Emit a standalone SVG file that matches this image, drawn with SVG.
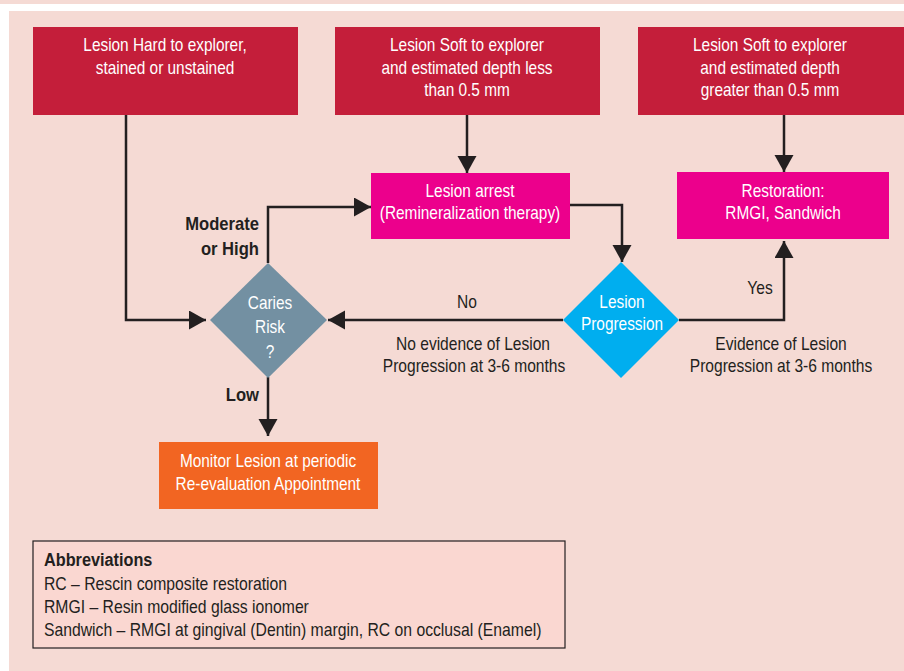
<svg xmlns="http://www.w3.org/2000/svg" width="904" height="671" viewBox="0 0 904 671">
<style>
.t{font-family:"Liberation Sans",Arial,sans-serif;font-size:17.5px;text-anchor:middle}
.w{fill:#ffffff}
.d{fill:#231f20}
.b{font-weight:bold}
.l{text-anchor:start}
.r{text-anchor:end}
.c{fill:none;stroke:#231f20;stroke-width:2.5}
</style>
<defs>
<marker id="ah" markerUnits="userSpaceOnUse" markerWidth="18" markerHeight="20" refX="17" refY="9.5" orient="auto">
<path d="M0,0 L17,9.5 L0,19 Z" fill="#231f20"/>
</marker>
</defs>
<rect x="0" y="0" width="904" height="4" fill="#f5dad4"/>
<rect x="0" y="4" width="904" height="7" fill="#ffffff"/>
<rect x="0" y="11" width="9" height="660" fill="#ffffff"/>
<rect x="9" y="11" width="895" height="660" fill="#f5dad4"/>

<g id="connectors">
<path class="c" d="M126,115 V320 H206" marker-end="url(#ah)"/>
<path class="c" d="M467,115 V173" marker-end="url(#ah)"/>
<path class="c" d="M784,115 V172" marker-end="url(#ah)"/>
<path class="c" d="M268,263 V207 H371" marker-end="url(#ah)"/>
<path class="c" d="M570,205 H622 V262" marker-end="url(#ah)"/>
<path class="c" d="M563,320 H328" marker-end="url(#ah)"/>
<path class="c" d="M679,320 H784 V241" marker-end="url(#ah)"/>
<path class="c" d="M268,377 V436" marker-end="url(#ah)"/>
<text class="t d b r" transform="matrix(0.95 0 0 1 259 230)">Moderate</text>
<text class="t d b r" transform="matrix(0.95 0 0 1 259 255)">or High</text>
<text class="t d b r" transform="matrix(0.95 0 0 1 259 401)">Low</text>
<text class="t d" transform="matrix(0.89 0 0 1 467 308)">No</text>
<text class="t d" transform="matrix(0.89 0 0 1 473 350)">No evidence of Lesion</text>
<text class="t d" transform="matrix(0.89 0 0 1 474 372)">Progression at 3-6 months</text>
<text class="t d" transform="matrix(0.89 0 0 1 760 294)">Yes</text>
<text class="t d" transform="matrix(0.89 0 0 1 781 350)">Evidence of Lesion</text>
<text class="t d" transform="matrix(0.89 0 0 1 781 372)">Progression at 3-6 months</text>
</g>

<g id="hard">
<rect x="33" y="27" width="265" height="88" fill="#c41e3a"/>
<text class="t w" transform="matrix(0.88 0 0 1 165 51)">Lesion Hard to explorer,</text>
<text class="t w" transform="matrix(0.88 0 0 1 165 74)">stained or unstained</text>
</g>
<g id="soft-less">
<rect x="335" y="27" width="265" height="88" fill="#c41e3a"/>
<text class="t w" transform="matrix(0.88 0 0 1 467 51)">Lesion Soft to explorer</text>
<text class="t w" transform="matrix(0.88 0 0 1 467 74)">and estimated depth less</text>
<text class="t w" transform="matrix(0.88 0 0 1 467 96)">than 0.5 mm</text>
</g>
<g id="soft-greater">
<rect x="638" y="27" width="266" height="88" fill="#c41e3a"/>
<text class="t w" transform="matrix(0.88 0 0 1 770 51)">Lesion Soft to explorer</text>
<text class="t w" transform="matrix(0.88 0 0 1 770 74)">and estimated depth</text>
<text class="t w" transform="matrix(0.88 0 0 1 770 96)">greater than 0.5 mm</text>
</g>
<g id="arrest">
<rect x="371" y="173" width="199" height="66" fill="#ec008c"/>
<text class="t w" transform="matrix(0.88 0 0 1 470 197)">Lesion arrest</text>
<text class="t w" transform="matrix(0.88 0 0 1 470 219)">(Remineralization therapy)</text>
</g>
<g id="restoration">
<rect x="677" y="172" width="212" height="67" fill="#ec008c"/>
<text class="t w" transform="matrix(0.88 0 0 1 783 197)">Restoration:</text>
<text class="t w" transform="matrix(0.88 0 0 1 783 219)">RMGI, Sandwich</text>
</g>
<g id="caries">
<path d="M268,263 L327,320 L268,378 L210,320 Z" fill="#7390a2"/>
<text class="t w" transform="matrix(0.88 0 0 1 270 309)">Caries</text>
<text class="t w" transform="matrix(0.88 0 0 1 270 333)">Risk</text>
<text class="t w" transform="matrix(0.88 0 0 1 270 358)">?</text>
</g>
<g id="progression">
<path d="M621,262 L679,320 L621,378 L563,320 Z" fill="#00aeef"/>
<text class="t w" transform="matrix(0.88 0 0 1 622 308)">Lesion</text>
<text class="t w" transform="matrix(0.88 0 0 1 622 330)">Progression</text>
</g>
<g id="monitor">
<rect x="159" y="442" width="219" height="67" fill="#f26522"/>
<text class="t w" transform="matrix(0.88 0 0 1 268 467)">Monitor Lesion at periodic</text>
<text class="t w" transform="matrix(0.88 0 0 1 268 490)">Re-evaluation Appointment</text>
</g>
<g id="abbreviations">
<rect x="33" y="541" width="532" height="107" fill="#fad7d1" stroke="#231f20" stroke-width="1.2"/>
<text class="t d b l" transform="matrix(0.93 0 0 1 44 566)">Abbreviations</text>
<text class="t d l" transform="matrix(0.9 0 0 1 44 590)">RC – Rescin composite restoration</text>
<text class="t d l" transform="matrix(0.9 0 0 1 44 613)">RMGI – Resin modified glass ionomer</text>
<text class="t d l" transform="matrix(0.9 0 0 1 44 636)">Sandwich – RMGI at gingival (Dentin) margin, RC on occlusal (Enamel)</text>
</g>
</svg>
